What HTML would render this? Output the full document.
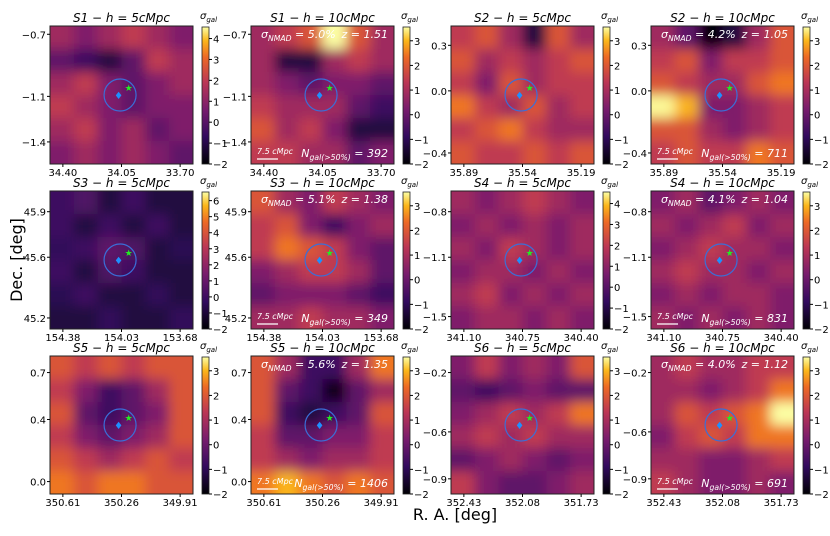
<!DOCTYPE html>
<html><head><meta charset="utf-8">
<style>
body{margin:0;background:#fff;}
svg{display:block;font-family:"DejaVu Sans","Liberation Sans",sans-serif;}
</style></head>
<body>
<svg id="fig" width="830" height="536" viewBox="0 0 830 536" xmlns="http://www.w3.org/2000/svg">
<defs>
<linearGradient id="cbg" x1="0" y1="1" x2="0" y2="0">
<stop offset="0" stop-color="#000004"/><stop offset="0.2" stop-color="#320a5e"/>
<stop offset="0.4" stop-color="#781c6d"/><stop offset="0.6" stop-color="#bc3754"/>
<stop offset="0.78" stop-color="#ed6925"/><stop offset="0.9" stop-color="#fbb61a"/>
<stop offset="1" stop-color="#fcffa4"/></linearGradient>
<filter id="blur" x="0" y="0" width="1" height="1"><feGaussianBlur stdDeviation="6"/></filter>
</defs>
<g id="root"></g>
<text x="22" y="260" font-size="16" text-anchor="middle" transform="rotate(-90 22 260)">Dec.  [deg]</text>
<text x="455" y="520" font-size="16" text-anchor="middle">R. A.  [deg]</text>
</svg>
<script>
const titles=["S1 − h = 5cMpc","S1 − h = 10cMpc","S2 − h = 5cMpc","S2 − h = 10cMpc","S3 − h = 5cMpc","S3 − h = 10cMpc","S4 − h = 5cMpc","S4 − h = 10cMpc","S5 − h = 5cMpc","S5 − h = 10cMpc","S6 − h = 5cMpc","S6 − h = 10cMpc"];
const xTicks=[["34.40","34.05","33.70"],["35.89","35.54","35.19"],["154.38","154.03","153.68"],["341.10","340.75","340.40"],["350.61","350.26","349.91"],["352.43","352.08","351.73"]];
const yTicks=[["−0.7","−1.1","−1.4"],["0.3","0.0","−0.4"],["45.9","45.6","45.2"],["−0.8","−1.1","−1.5"],["0.7","0.4","0.0"],["−0.2","−0.6","−0.9"]];
const yTickPos=[[0.06,0.51,0.84],[0.14,0.47,0.92],[0.15,0.48,0.92],[0.15,0.48,0.91],[0.12,0.46,0.91],[0.12,0.55,0.89]];
const cbMax=[4,3,3,3,6,3,4,3,3,3,3,3];
const sigmaNMAD=["5.0%","4.2%","5.1%","4.1%","5.6%","4.0%"];
const redshift=["1.51","1.05","1.38","1.04","1.35","1.12"];
const nGal=["392","711","349","831","1406","691"];
const fields=[
[[.5,.45,.5,.55,.5,.45],[.4,.35,.3,.4,.55,.5],[.5,.55,.45,.4,.45,.5],[.55,.5,.45,.4,.45,.45],[.5,.55,.45,.5,.4,.45],[.45,.5,.45,.5,.45,.4]],
[[.5,.55,.6,.85,.6,.5],[.5,.3,.3,.5,.55,.5],[.5,.45,.4,.45,.45,.4],[.55,.5,.5,.5,.4,.35],[.6,.5,.55,.45,.3,.3],[.55,.55,.5,.5,.4,.45]],
[[.55,.6,.5,.3,.6,.5],[.6,.5,.55,.5,.55,.6],[.55,.45,.6,.5,.55,.55],[.65,.55,.5,.6,.5,.55],[.55,.6,.65,.55,.5,.5],[.6,.55,.55,.6,.55,.6]],
[[.5,.4,.1,.3,.5,.6],[.55,.6,.45,.55,.55,.6],[.6,.55,.5,.5,.6,.65],[.75,.7,.45,.45,.5,.55],[.6,.6,.5,.45,.5,.55],[.55,.6,.55,.55,.65,.6]],
[[.35,.38,.3,.35,.3,.3],[.35,.3,.35,.3,.35,.3],[.33,.35,.4,.38,.3,.32],[.35,.3,.38,.35,.3,.3],[.32,.35,.3,.3,.33,.3],[.3,.3,.33,.3,.3,.33]],
[[.6,.5,.45,.55,.5,.45],[.55,.6,.45,.35,.45,.5],[.55,.65,.6,.55,.45,.4],[.45,.5,.55,.55,.5,.4],[.4,.45,.45,.45,.4,.35],[.5,.5,.55,.5,.5,.45]],
[[.5,.45,.5,.55,.5,.45],[.45,.5,.45,.5,.45,.5],[.5,.45,.55,.5,.45,.5],[.45,.5,.5,.45,.5,.45],[.5,.55,.45,.5,.45,.5],[.45,.5,.5,.45,.5,.45]],
[[.45,.5,.4,.45,.5,.45],[.5,.45,.5,.55,.45,.5],[.45,.5,.55,.5,.5,.45],[.5,.55,.5,.5,.45,.5],[.45,.5,.45,.5,.5,.45],[.5,.45,.5,.45,.5,.45]],
[[.6,.55,.6,.55,.6,.6],[.55,.45,.35,.4,.5,.6],[.6,.4,.35,.4,.45,.6],[.55,.45,.4,.45,.5,.6],[.6,.55,.5,.55,.6,.55],[.65,.6,.65,.65,.6,.6]],
[[.6,.5,.35,.35,.5,.65],[.6,.4,.35,.25,.4,.5],[.6,.35,.3,.35,.4,.6],[.55,.4,.4,.45,.45,.55],[.55,.5,.45,.5,.5,.55],[.65,.7,.65,.6,.65,.6]],
[[.45,.55,.45,.5,.45,.6],[.4,.35,.4,.45,.4,.4],[.45,.5,.55,.5,.55,.65],[.5,.55,.5,.55,.5,.5],[.4,.45,.5,.45,.4,.45],[.55,.45,.4,.4,.45,.5]],
[[.5,.55,.5,.5,.55,.55],[.5,.5,.45,.5,.55,.65],[.5,.6,.55,.6,.65,.8],[.45,.55,.6,.55,.65,.65],[.5,.5,.45,.45,.5,.55],[.55,.5,.45,.45,.5,.45]]
];
const stops=[[0,[0,0,4]],[.2,[50,10,94]],[.4,[120,28,109]],[.6,[188,55,84]],[.78,[237,105,37]],[.9,[251,182,26]],[1,[252,255,164]]];
function cmap(v){v=0.42+(v-0.45)*1.9;v=Math.max(0,Math.min(1,v));for(let i=1;i<stops.length;i++){if(v<=stops[i][0]){const a=stops[i-1],b=stops[i];const t=(v-a[0])/(b[0]-a[0]);const c=a[1].map((x,k)=>Math.round(x+(b[1][k]-x)*t));return `rgb(${c})`;}}return 'rgb(252,255,164)';}
const NS="http://www.w3.org/2000/svg";
const root=document.getElementById('root');
function mk(tag,attrs,parent,txt){const e=document.createElementNS(NS,tag);for(const k in attrs)e.setAttribute(k,attrs[k]);if(txt!==undefined)e.textContent=txt;(parent||root).appendChild(e);return e;}
function sub(parent,base,s,rest){mk('tspan',{},parent,base);mk('tspan',{'font-size':'0.7em',dy:3},parent,s);if(rest!==undefined)mk('tspan',{dy:-3},parent,rest);}
const colX=[50,251,451,651],rowY=[26,191,356],PW=143,PH=138;
for(let p=0;p<12;p++){
 const s=Math.floor(p/2), c=(s%2)*2+(p%2);
 const row=Math.floor(s/2);
 const x0=colX[c],y0=rowY[row];
 const g=mk('g',{});
 
 
 const f=fields[p],n=f.length,cw=PW/n,ch=PH/n;
 const clipId='clip'+p;
 const cp=mk('clipPath',{id:clipId},g);mk('rect',{x:x0,y:y0,width:PW,height:PH},cp);
 const hg=mk('g',{'clip-path':`url(#${clipId})`},g);
 mk('rect',{x:x0,y:y0,width:PW,height:PH,fill:cmap(0.45)},hg);
 const bg=mk('g',{filter:'url(#blur)'},hg);
 for(let i=0;i<n;i++)for(let j=0;j<n;j++){
  const cell=mk('rect',{x:x0+j*cw-(j==0?20:0),y:y0+i*ch-(i==0?20:0),width:cw+1+(j==0||j==n-1?20:0),height:ch+1+(i==0||i==n-1?20:0),fill:cmap(f[i][j])},bg);
  
  
 }
 const circ=mk('circle',{cx:x0+PW*0.49,cy:y0+PH*0.5,r:16,fill:'none',stroke:'#3a6fd8','stroke-width':1.2},g);
 
 
 mk('text',{x:x0+PW*0.48,y:y0+PH*0.53,'font-size':10,fill:'#1e90ff','text-anchor':'middle'},g,'♦');
 mk('text',{x:x0+PW*0.55,y:y0+PH*0.47,'font-size':9,fill:'#22ee22','text-anchor':'middle'},g,'★');
 mk('rect',{x:x0,y:y0,width:PW,height:PH,fill:'none',stroke:'#222','stroke-width':1},g);
 const t=mk('text',{x:x0+PW/2,y:y0-4,'font-size':12,'font-style':'italic','text-anchor':'middle'},g,titles[p]);
 
 
 xTicks[s].forEach((l,k)=>{const xx=x0+PW*[0.09,0.5,0.91][k];mk('line',{x1:xx,x2:xx,y1:y0+PH,y2:y0+PH+3,stroke:'#000'},g);mk('text',{x:xx,y:y0+PH+12,'font-size':10,'text-anchor':'middle'},g,l);});
 yTicks[s].forEach((l,k)=>{const yy=y0+PH*yTickPos[s][k];mk('line',{x1:x0-3,x2:x0,y1:yy,y2:yy,stroke:'#000'},g);mk('text',{x:x0-4,y:yy+4,'font-size':10,'text-anchor':'end'},g,l);});
 if(p%2==1){
  const a=mk('text',{x:x0+10,y:y0+12,'font-size':11,fill:'#fff','font-style':'italic'},g);sub(a,'σ','NMAD',' = '+sigmaNMAD[s]);
  mk('text',{x:x0+PW-6,y:y0+12,'font-size':11,fill:'#fff','text-anchor':'end','font-style':'italic'},g,'z = '+redshift[s]);
  const b=mk('text',{x:x0+PW-6,y:y0+PH-7,'font-size':11,fill:'#fff','text-anchor':'end','font-style':'italic'},g);sub(b,'N','gal(>50%)',' = '+nGal[s]);
  mk('text',{x:x0+6,y:y0+PH-10,'font-size':8,fill:'#fff','font-style':'italic'},g,'7.5 cMpc');
  mk('line',{x1:x0+6,x2:x0+27,y1:y0+PH-5,y2:y0+PH-5,stroke:'#fff','stroke-width':1.2},g);
 }
 const cbx=x0+PW+9;
 const cb=mk('rect',{x:cbx,y:y0+1,width:7,height:PH-1,fill:'url(#cbg)',stroke:'#222','stroke-width':0.8},g);
 
 
 const lab=mk('text',{x:cbx-2,y:y0-7,'font-size':10,'font-style':'italic'},g);sub(lab,'σ','gal');
 const mx=cbMax[p]+0.6;
 for(let v=-2;v<=cbMax[p];v++){const yy=y0+PH-(v+2)/(mx+2)*PH;mk('line',{x1:cbx+7,x2:cbx+10,y1:yy,y2:yy,stroke:'#000'},g);mk('text',{x:cbx+11,y:yy+4,'font-size':10},g,(v<0?'−':'')+Math.abs(v));}
}
</script>
</body></html>
